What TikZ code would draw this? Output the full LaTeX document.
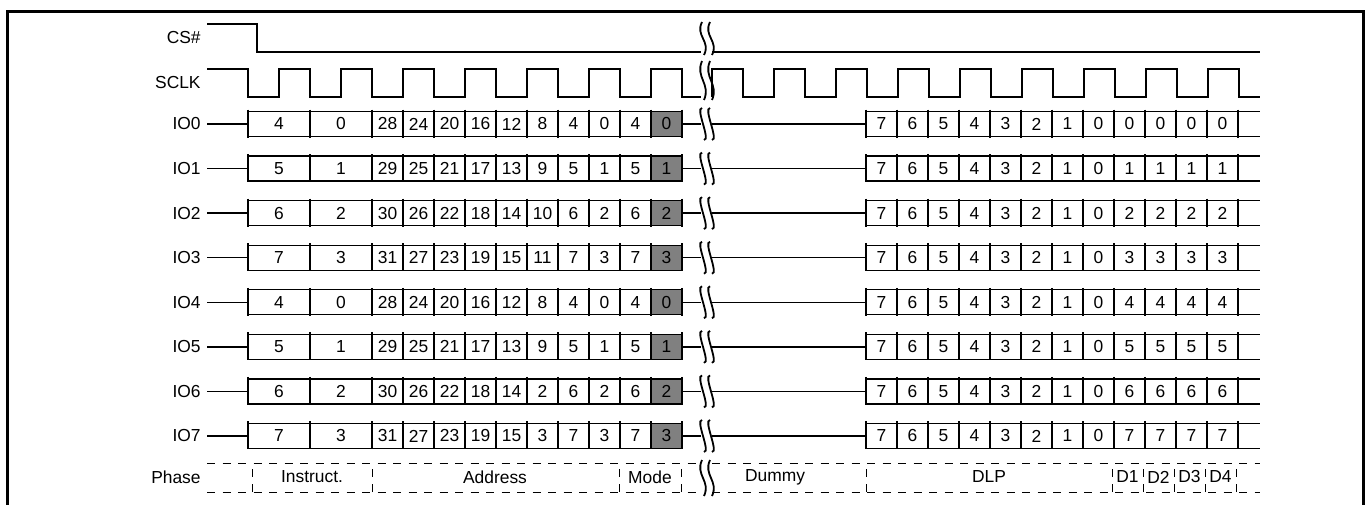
\documentclass[tikz,border=0pt]{standalone}
\usepackage{fontspec}
\setmainfont{Liberation Sans}
\usetikzlibrary{positioning}

\tikzset{
  sig/.style={line width=0.7pt},
  border/.style={line width=1.5pt},
  phaseline/.style={line width=0.45pt,dash pattern=on 4pt off 3.75pt},
  lbl/.style={anchor=east,inner sep=0pt,font=\fontsize{8.7}{10}\selectfont},
  val/.style={inner sep=0pt,font=\fontsize{8.7}{10}\selectfont},
  hold/.style={fill=black!50},
}

% break mark: two wavy strokes from y #1 down to y #2
\newcommand{\brkmark}[2]{%
  \foreach \bx in {703,711}
    \draw[line width=0.9pt] (\bx-1,#1) .. controls (\bx-8,{#1+0.42*(#2-#1)}) and (\bx+8,{#2-0.42*(#2-#1)}) .. (\bx+1,#2);
}

\begin{document}
\begin{tikzpicture}[x=0.5pt,y=-0.5pt]

\fill[white] (0,0) rectangle (1370,504);
\useasboundingbox (0,0) rectangle (1370,504);
\draw[border] (7,506) -- (7,11) -- (1363,11) -- (1363,506);

% chip select
\node[lbl] (cs) at (201,38) {CS\#};
\draw[sig] (207,24) -- (257,24) -- (257,52) -- (701,52);
\draw[sig] (712,52) -- (1260,52);
\brkmark{22}{55}

% clock
\node[lbl] (sclk) at (201,83) {SCLK};
\draw[sig] (207,69) -- (248,69) -- (248,97)
  \foreach \k in {0,...,6}{ -- ++(31,0) -- ++(0,-28) -- ++(31,0) -- ++(0,28) } -- (701,97);
\draw[sig] (712,97) -- (712,69)
  \foreach \k in {0,...,7}{ -- ++(31,0) -- ++(0,28) -- ++(31,0) -- ++(0,-28) }
  -- (1239,69) -- (1239,97) -- (1260,97);
\brkmark{61}{100}

% data lines
\foreach \r/\ia/\ib/\adr/\dd in {
  0/4/0/{28,24,20,16,12,8,4,0,4,0}/0,
  1/5/1/{29,25,21,17,13,9,5,1,5,1}/1,
  2/6/2/{30,26,22,18,14,10,6,2,6,2}/2,
  3/7/3/{31,27,23,19,15,11,7,3,7,3}/3,
  4/4/0/{28,24,20,16,12,8,4,0,4,0}/4,
  5/5/1/{29,25,21,17,13,9,5,1,5,1}/5,
  6/6/2/{30,26,22,18,14,2,6,2,6,2}/6,
  7/7/3/{31,27,23,19,15,3,7,3,7,3}/7}{
  \pgfmathsetmacro{\y}{124+44.57*\r}
  \pgfmathsetmacro{\yt}{\y-12.5}
  \pgfmathsetmacro{\yb}{\y+12.5}
  \node[lbl] (io\r) at (201,\y) {IO\r};
  \draw[sig] (207,\y) -- (248,\y);
  % instruction, address and mode
  \fill[hold] (651,\yt) rectangle (682,\yb);
  \draw[sig] (248,\yt) -- (682,\yt) (248,\yb) -- (682,\yb);
  \foreach \cx in {248,310}
    \draw[sig] (\cx,\yt-2) -- (\cx,\yb+1);
  \foreach \cx in {372,403,...,682}
    \draw[sig] (\cx,\yt-2) -- (\cx,\yb+1);
  \node[val] (io\r-c0) at (279,\y) {\ia};
  \node[val] (io\r-c1) at (341,\y) {\ib};
  \foreach \v [count=\k from 0] in \adr
    \node[val] (io\r-a\k) at (387.5+31*\k,\y) {\v};
  \draw[sig] (682,\y) -- (701,\y) (712,\y) -- (866,\y);
  % data out
  \draw[sig] (866,\yt) -- (1260,\yt) (866,\yb) -- (1260,\yb);
  \foreach \cx in {866,897,...,1238}
    \draw[sig] (\cx,\yt-2) -- (\cx,\yb+1);
  \foreach \v [count=\k from 0] in {7,6,5,4,3,2,1,0,\dd,\dd,\dd,\dd}
    \node[val] (io\r-d\k) at (881.5+31*\k,\y) {\v};
  \brkmark{\y-16}{\y+16}
}

% phases
\node[lbl] (phase) at (201,477) {Phase};
\draw[phaseline] (207,463) -- (701,463) (712,463) -- (1260,463);
\draw[phaseline] (207,492) -- (701,492) (712,492) -- (1260,492);
\foreach \px in {252,372,619,681,866,1112,1143,1174,1205,1236}
  \draw[phaseline] (\px,492) -- (\px,463);
\node[val] (ph-ins) at (312,477) {Instruct.};
\node[val] (ph-adr) at (495,477) {Address};
\node[val] (ph-mod) at (650,477) {Mode};
\node[val] (ph-dum) at (775,477) {Dummy};
\node[val] (ph-dlp) at (989,477) {DLP};
\foreach \t [count=\k from 0] in {D1,D2,D3,D4}
  \node[val] (ph-d\k) at (1127.5+31*\k,477) {\t};
\brkmark{460}{496}

\end{tikzpicture}
\end{document}
